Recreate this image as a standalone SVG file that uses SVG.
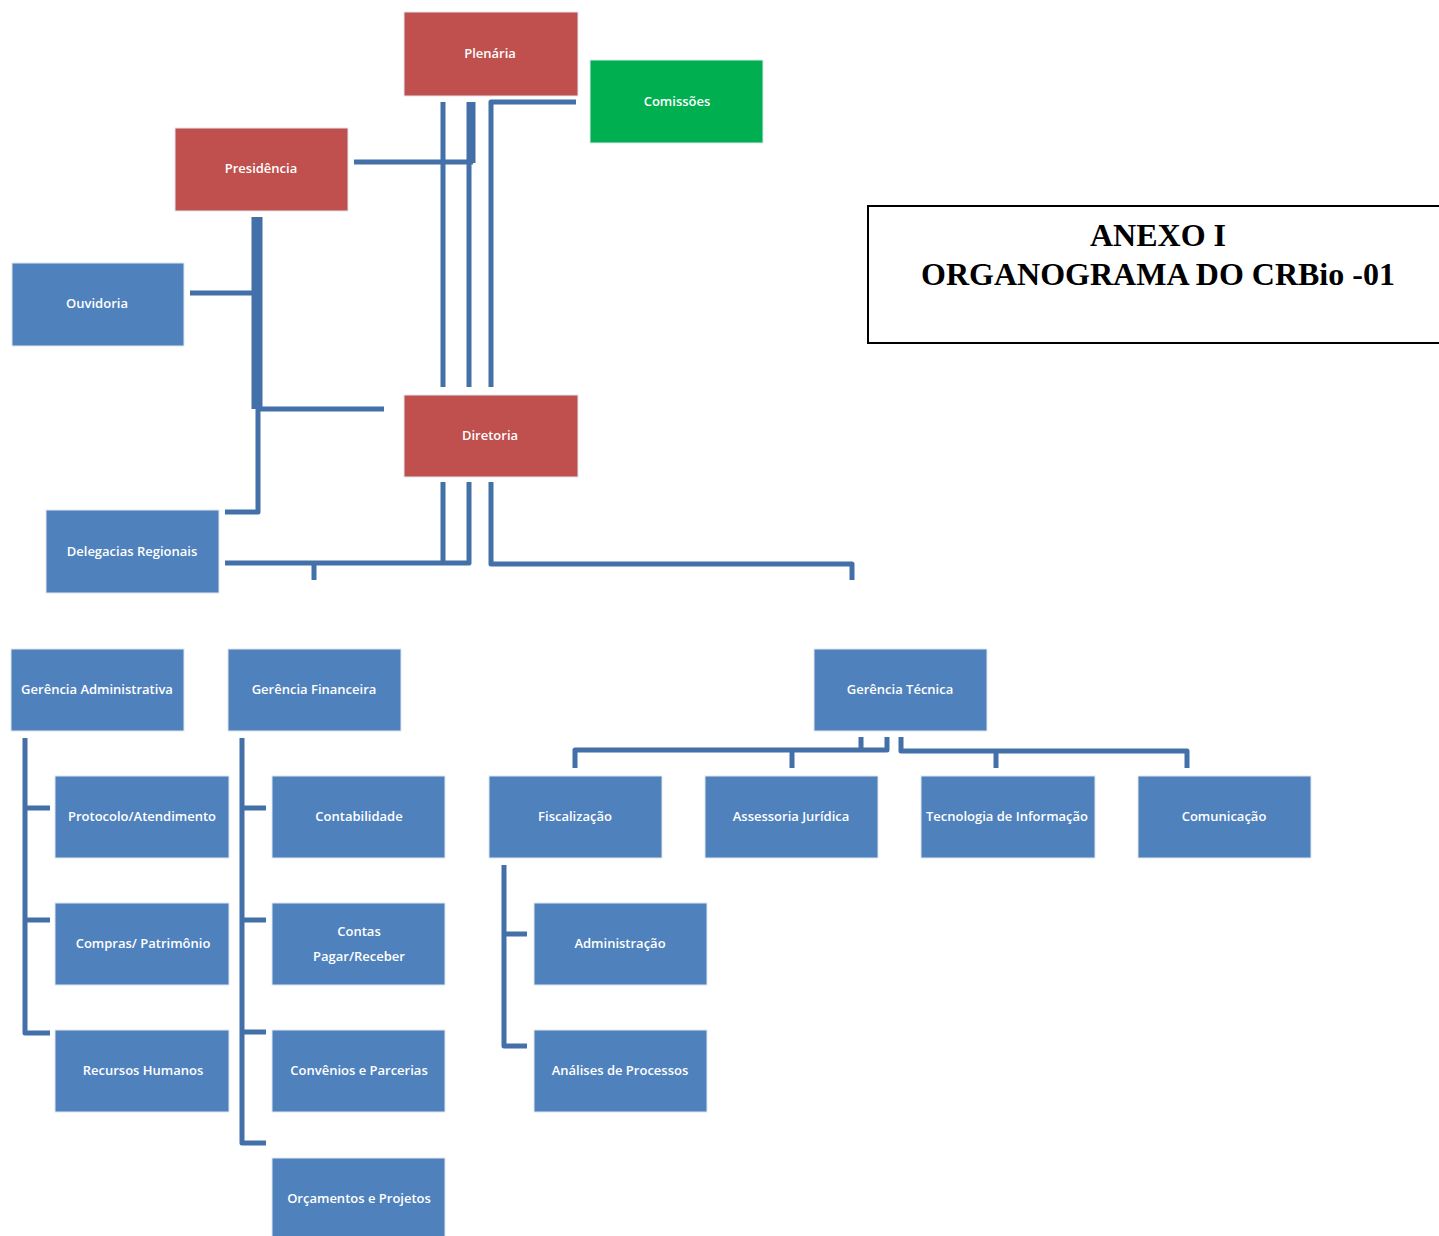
<svg xmlns="http://www.w3.org/2000/svg" width="1439" height="1236" viewBox="0 0 1439 1236">
<style>
.n rect{stroke:#dfe7f2;stroke-width:1}
.red rect{fill:#C0504D}
.grn rect{fill:#00B050}
.blu rect{fill:#4F81BD}
.n text{fill:#fff;font-family:"Open Sans","Liberation Sans",sans-serif;font-weight:600;font-size:13px;text-anchor:middle;dominant-baseline:central}
.c path{fill:none;stroke:#4370A8;stroke-width:5;stroke-linejoin:round}
.t{font-family:"Liberation Serif",serif;font-weight:bold;font-size:32px;text-anchor:middle}
</style>
<rect width="1439" height="1236" fill="#fff"/>
<g id="connectors" class="c">
<path d="M443,102V387"/>
<path d="M471,102V163" style="stroke-width:9"/>
<path d="M354,162H473M469,162V387"/>
<path d="M576,102H491V387"/>
<path d="M257,217V409" style="stroke-width:11"/>
<path d="M190,293H255"/>
<path d="M257,409H384"/>
<path d="M258,409V512H225"/>
<path d="M443,482V563"/>
<path d="M469,482V563H225"/>
<path d="M314,563V580"/>
<path d="M491,482V564H852V580"/>
<path d="M575,768V750H887V737M861,737V750M792,750V768"/>
<path d="M901,737V751H1187V768M996,751V768"/>
<path d="M25,738V1033H50M25,808H50M25,920H50"/>
<path d="M242,738V1143H266M242,808H266M242,920H266M242,1032H266"/>
<path d="M504,865V1046H527M504,934H527"/>
</g>
<g id="plenaria" class="n red"><rect x="404" y="12" width="174" height="84"/><text x="490" y="53">Plenária</text></g>
<g id="comissoes" class="n grn"><rect x="590" y="60" width="173" height="83"/><text x="677" y="101">Comissões</text></g>
<g id="presidencia" class="n red"><rect x="175" y="128" width="173" height="83"/><text x="261" y="168">Presidência</text></g>
<g id="ouvidoria" class="n blu"><rect x="12" y="263" width="172" height="83"/><text x="97" y="303">Ouvidoria</text></g>
<g id="diretoria" class="n red"><rect x="404" y="395" width="174" height="82"/><text x="490" y="435">Diretoria</text></g>
<g id="delegacias" class="n blu"><rect x="46" y="510" width="173" height="83"/><text x="132" y="551">Delegacias Regionais</text></g>
<g id="ger-adm" class="n blu"><rect x="11" y="649" width="173" height="82"/><text x="97" y="689">Gerência Administrativa</text></g>
<g id="ger-fin" class="n blu"><rect x="228" y="649" width="173" height="82"/><text x="314" y="689">Gerência Financeira</text></g>
<g id="ger-tec" class="n blu"><rect x="814" y="649" width="173" height="82"/><text x="900" y="689">Gerência Técnica</text></g>
<g id="protocolo" class="n blu"><rect x="55" y="776" width="174" height="82"/><text x="142" y="816">Protocolo/Atendimento</text></g>
<g id="compras" class="n blu"><rect x="55" y="903" width="174" height="82"/><text x="143" y="943">Compras/ Patrimônio</text></g>
<g id="rh" class="n blu"><rect x="55" y="1030" width="174" height="82"/><text x="143" y="1070">Recursos Humanos</text></g>
<g id="contabilidade" class="n blu"><rect x="272" y="776" width="173" height="82"/><text x="359" y="816">Contabilidade</text></g>
<g id="contas" class="n blu"><rect x="272" y="903" width="173" height="82"/><text x="359" y="931">Contas</text><text x="359" y="956">Pagar/Receber</text></g>
<g id="convenios" class="n blu"><rect x="272" y="1030" width="173" height="82"/><text x="359" y="1070">Convênios e Parcerias</text></g>
<g id="orcamentos" class="n blu"><rect x="272" y="1158" width="173" height="80"/><text x="359" y="1198">Orçamentos e Projetos</text></g>
<g id="fiscalizacao" class="n blu"><rect x="489" y="776" width="173" height="82"/><text x="575" y="816">Fiscalização</text></g>
<g id="assessoria" class="n blu"><rect x="705" y="776" width="173" height="82"/><text x="791" y="816">Assessoria Jurídica</text></g>
<g id="tecnologia" class="n blu"><rect x="921" y="776" width="174" height="82"/><text x="1007" y="816">Tecnologia de Informação</text></g>
<g id="comunicacao" class="n blu"><rect x="1138" y="776" width="173" height="82"/><text x="1224" y="816">Comunicação</text></g>
<g id="administracao" class="n blu"><rect x="534" y="903" width="173" height="82"/><text x="620" y="943">Administração</text></g>
<g id="analises" class="n blu"><rect x="534" y="1030" width="173" height="82"/><text x="620" y="1070">Análises de Processos</text></g>
<g id="titulo"><rect x="868" y="206" width="580" height="137" fill="#fff" stroke="#000" stroke-width="2"/><text class="t" x="1158" y="246">ANEXO I</text><text class="t" x="1158" y="285">ORGANOGRAMA DO CRBio -01</text></g>
</svg>
